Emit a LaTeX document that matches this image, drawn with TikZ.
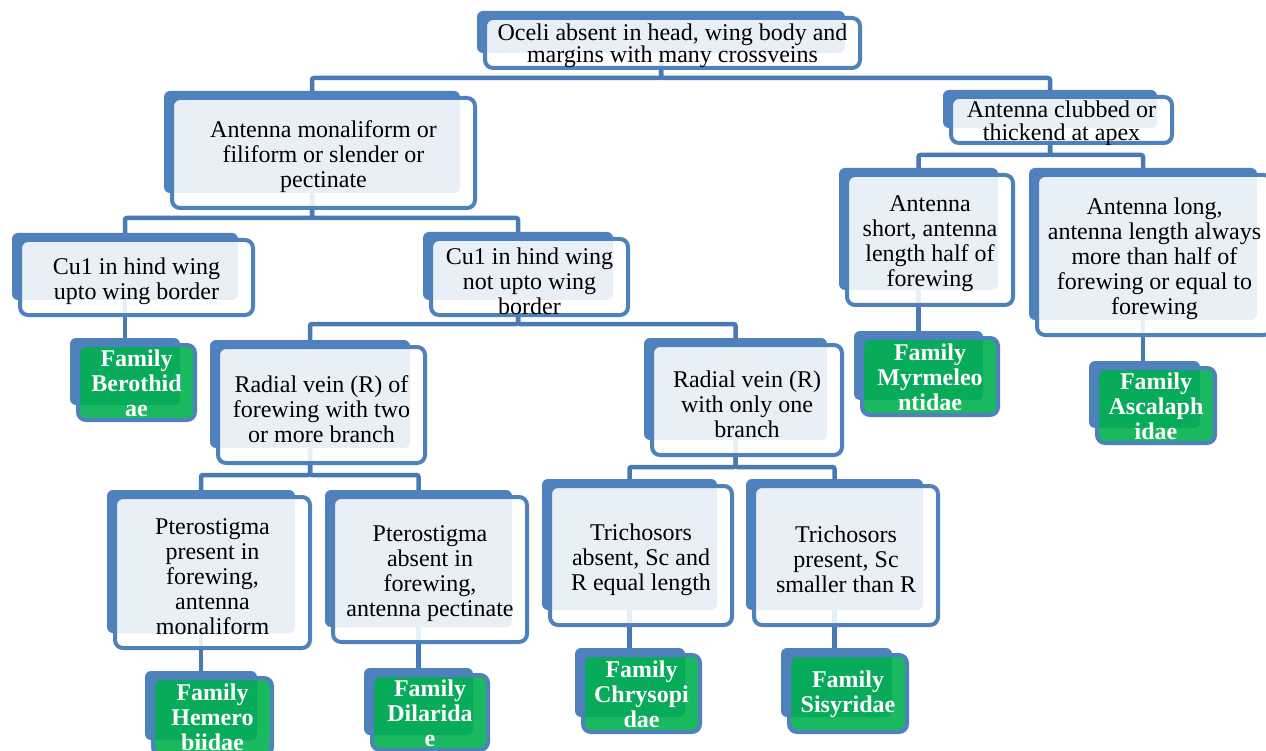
\documentclass[tikz,border=0pt]{standalone}
\usepackage{fontspec}
\setmainfont{Liberation Serif}
\usetikzlibrary{backgrounds}
\definecolor{sablue}{HTML}{4F81BD}
\definecolor{sagreen}{HTML}{00B050}
\definecolor{conncol}{HTML}{4A7AB4}
\tikzset{
 backbox/.style={fill=sablue, rounded corners=6pt, inner sep=0pt, outer sep=0pt},
 frontbox/.style={draw=sablue, line width=4pt, rounded corners=8pt, fill=white, fill opacity=0.88, inner sep=0pt, outer sep=0pt},
 famfront/.style={frontbox, fill=sagreen, fill opacity=0.9},
 txtbase/.style={inner sep=0pt, align=center},
 txt/.style={txtbase, font=\fontsize{24}{25}\selectfont, yshift=-4pt},
 tighttxt/.style={txtbase, font=\fontsize{24}{22.5}\selectfont, yshift=-3pt},
 famtxt/.style={txtbase, text=white, font=\fontsize{24}{25}\selectfont\bfseries, yshift=-1pt},
 conn/.style={draw=conncol, line width=4.5pt, rounded corners=2pt}
}
% #1 name, #2-#5 front box corners, #6 box style, #7 text style, #8 text
\newcommand\pairbox[8]{%
  \node[backbox, minimum width={#4-#2-7}, minimum height={#5-#3-8}] (#1B) at ({(#2+#4-23)/2},{(#3+#5-22)/2}) {};
  \node[#6, minimum width={#4-#2}, minimum height={#5-#3}] (#1) at ({(#2+#4)/2},{(#3+#5)/2}) {};
  \node[#7] (#1T) at (#1.center) {#8};
}
\begin{document}
\begin{tikzpicture}[x=1pt,y=-1pt]
\useasboundingbox (0,0) rectangle (1266,751);
% boxes
\pairbox{root}{485}{18}{860}{68}{frontbox}{tighttxt}{Oceli absent in head, wing body and\\margins with many crossveins}
\pairbox{LL}{172}{98}{475}{208}{frontbox}{txt}{Antenna monaliform or\\filiform or slender or\\pectinate}
\pairbox{LR}{951}{97}{1172}{143}{frontbox}{tighttxt}{Antenna clubbed or\\thickend at apex}
\pairbox{CuL}{20}{240}{253}{315}{frontbox}{txt}{Cu1 in hind wing\\upto wing border}
\pairbox{CuR}{431}{239}{628}{315}{frontbox}{txt}{Cu1 in hind wing\\not upto wing\\border}
\pairbox{RaA}{218}{347}{425}{463}{frontbox}{txt}{Radial vein (R) of\\forewing with two\\or more branch}
\pairbox{RaB}{652}{345}{842}{455}{frontbox}{txt}{Radial vein (R)\\with only one\\branch}
\pairbox{PtP}{115}{497}{310}{648}{frontbox}{txt}{Pterostigma\\present in\\forewing,\\antenna\\monaliform}
\pairbox{PtA}{333}{497}{527}{642}{frontbox}{txt}{Pterostigma\\absent in\\forewing,\\antenna pectinate}
\pairbox{TrA}{550}{486}{732}{625}{frontbox}{txt}{Trichosors\\absent, Sc and\\R equal length}
\pairbox{TrP}{754}{486}{938}{625}{frontbox}{txt}{Trichosors\\present, Sc\\smaller than R}
\pairbox{AS}{847}{175}{1013}{305}{frontbox}{txt}{Antenna\\short, antenna\\length half of\\forewing}
\pairbox{AL}{1037}{175}{1272}{335}{frontbox}{txt}{Antenna long,\\antenna length always\\more than half of\\forewing or equal to\\forewing}
% families
\pairbox{Ber}{78}{345}{195}{420}{famfront}{famtxt}{Family\\Berothid\\ae}
\pairbox{Hem}{153}{678}{272}{755}{famfront}{famtxt}{Family\\Hemero\\biidae}
\pairbox{Dil}{372}{675}{488}{750}{famfront}{famtxt}{Family\\Dilarida\\e}
\pairbox{Chr}{583}{655}{700}{732}{famfront}{famtxt}{Family\\Chrysopi\\dae}
\pairbox{Sis}{789}{655}{907}{732}{famfront}{famtxt}{Family\\Sisyridae}
\pairbox{Myr}{862}{338}{998}{415}{famfront}{famtxt}{Family\\Myrmeleo\\ntidae}
\pairbox{Asc}{1097}{368}{1215}{443}{famfront}{famtxt}{Family\\Ascalaph\\idae}
% bus levels
\coordinate (b0) at (0,78);
\coordinate (b1) at (0,218);
\coordinate (b2) at (0,155);
\coordinate (b3) at (0,324);
\coordinate (b4) at (0,475);
\coordinate (b5) at (0,467);
\begin{scope}[on background layer]
\draw[conn] (rootB.center) -- (rootB.center |- b0) -| (LLB.north);
\draw[conn] (rootB.center) -- (rootB.center |- b0) -| (LRB.north);
\draw[conn] (LLB.center) -- (LLB.center |- b1) -| (CuLB.north);
\draw[conn] (LLB.center) -- (LLB.center |- b1) -| (CuRB.north);
\draw[conn] (LRB.center) -- (LRB.center |- b2) -| (ASB.north);
\draw[conn] (LRB.center) -- (LRB.center |- b2) -| (ALB.north);
\draw[conn] (CuRB.center) -- (CuRB.center |- b3) -| (RaAB.north);
\draw[conn] (CuRB.center) -- (CuRB.center |- b3) -| (RaBB.north);
\draw[conn] (RaAB.center) -- (RaAB.center |- b4) -| (PtPB.north);
\draw[conn] (RaAB.center) -- (RaAB.center |- b4) -| (PtAB.north);
\draw[conn] (RaBB.center) -- (RaBB.center |- b5) -| (TrAB.north);
\draw[conn] (RaBB.center) -- (RaBB.center |- b5) -| (TrPB.north);
\draw[conn] (CuLB.center) -- (CuLB.center |- BerB.north);
\draw[conn] (PtPB.center) -- (PtPB.center |- HemB.north);
\draw[conn] (PtAB.center) -- (PtAB.center |- DilB.north);
\draw[conn] (TrAB.center) -- (TrAB.center |- ChrB.north);
\draw[conn] (TrPB.center) -- (TrPB.center |- SisB.north);
\draw[conn] (ASB.center) -- (ASB.center |- MyrB.north);
\draw[conn] (ALB.center) -- (ALB.center |- AscB.north);
\end{scope}
\end{tikzpicture}
\end{document}
